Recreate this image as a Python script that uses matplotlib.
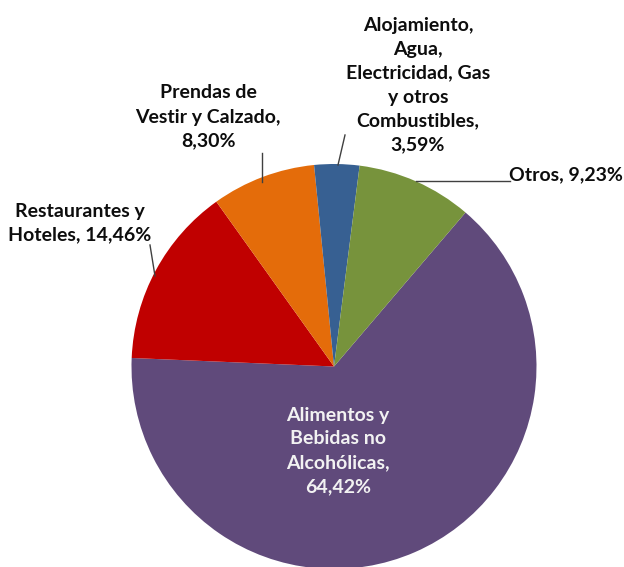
import matplotlib
matplotlib.use('Agg')
import matplotlib.pyplot as plt

# data (clockwise from the first slice)
names = ['Alimentos y\nBebidas no\nAlcohólicas', 'Restaurantes y\nHoteles', 'Prendas de\nVestir y Calzado',
         'Alojamiento,\nAgua,\nElectricidad, Gas\ny otros\nCombustibles', 'Otros']
values = [64.42, 14.46, 8.30, 3.59, 9.23]
colors = ['#604A7B', '#C00000', '#E46C0A', '#376092', '#77933C']

W, H = 624, 567
fig = plt.figure(figsize=(W / 100, H / 100), dpi=100)
ax = fig.add_axes([0, 0, 1, 1])

cx, cy, R = 334, H - 366.5, 202.5
ax.pie(values, colors=colors, startangle=49.5, counterclock=False,
       center=(cx, cy), radius=R, wedgeprops=dict(linewidth=0))
ax.set_xlim(0, W)
ax.set_ylim(0, H)
ax.set_aspect('auto')
ax.axis('off')

def pct(v):
    return ('%.2f' % v).replace('.', ',') + '%'

font = dict(family=['Lato', 'DejaVu Sans'], fontweight='bold', fontsize=14, linespacing=1.5)

# label placement in pixel coords (x, y from top), separator, colour
places = [
    (338, 451, ',\n', '#F2F2F2'),
    (80, 223, ', ', '#0D0D0D'),
    (208, 117, ',\n', '#0D0D0D'),
    (418, 85, ',\n', '#0D0D0D'),
    (566, 175, ', ', '#0D0D0D'),
]
for n, v, (x, y, sep, c) in zip(names, values, places):
    ax.text(x, H - y, n + sep + pct(v), ha='center', va='center', color=c, **font)

# leader lines
leaders = [
    ((150, 245), (155, 276)),
    ((262, 153), (262, 182)),
    ((345, 135), (338, 165)),
    ((510, 181), (416, 181)),
]
for (x1, y1), (x2, y2) in leaders:
    ax.plot([x1, x2], [H - y1, H - y2], color='#404040', lw=1)

fig.savefig('out.png', dpi=100)
